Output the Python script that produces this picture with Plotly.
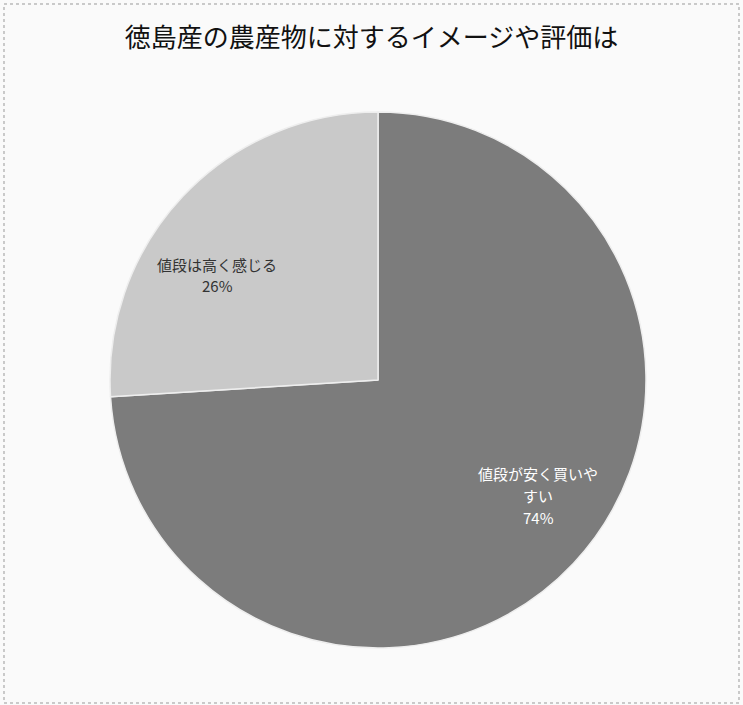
import plotly.graph_objects as go

categories = ["値段が安く買いやすい", "値段は高く感じる"]
label_lines = [["値段が安く買いや", "すい"], ["値段は高く感じる"]]
values = [74, 26]
colors = ["#7c7c7c", "#c9c9c9"]
text_colors = ["#ffffff", "#333333"]

W, H = 743, 705
cx, cy, r = 378, 380, 268

fig = go.Figure(go.Pie(
    labels=categories,
    values=values,
    textinfo="none",
    sort=False,
    direction="clockwise",
    rotation=0,
    marker=dict(colors=colors, line=dict(color="#eeeeee", width=1.5)),
    showlegend=False,
    hoverinfo="label+percent",
    domain=dict(x=[(cx - r) / W, (cx + r) / W], y=[(H - cy - r) / H, (H - cy + r) / H]),
))

# label anchor points (pixel positions of first line centre), one per slice
anchors = [(538, 473), (217, 264)]
line_gap = 22
total = sum(values)
annotations = []
for i, lines in enumerate(label_lines):
    pct = f"{round(values[i] / total * 100)}%"
    ax, ay = anchors[i]
    for j, t in enumerate(lines + [pct]):
        annotations.append(dict(
            text=t, x=ax / W, y=1 - (ay + j * line_gap) / H, xref="paper", yref="paper",
            showarrow=False, xanchor="center", yanchor="middle",
            font=dict(family="Noto Sans CJK JP", size=15, color=text_colors[i]),
        ))

fig.update_layout(
    width=W, height=H,
    margin=dict(l=0, r=0, t=0, b=0),
    paper_bgcolor="#fafafa",
    plot_bgcolor="#fafafa",
    title=dict(text="徳島産の農産物に対するイメージや評価は",
               font=dict(family="Noto Sans CJK JP", size=26, color="#111111"),
               x=0.5, xanchor="center", y=1 - 38 / H, yanchor="middle"),
    annotations=annotations,
    shapes=[dict(type="rect", xref="paper", yref="paper", x0=4 / W, x1=1 - 4 / W, y0=2 / H, y1=1 - 4 / H,
                 line=dict(color="#999999", width=1, dash="dot"))],
)

fig.write_html("out.html")
